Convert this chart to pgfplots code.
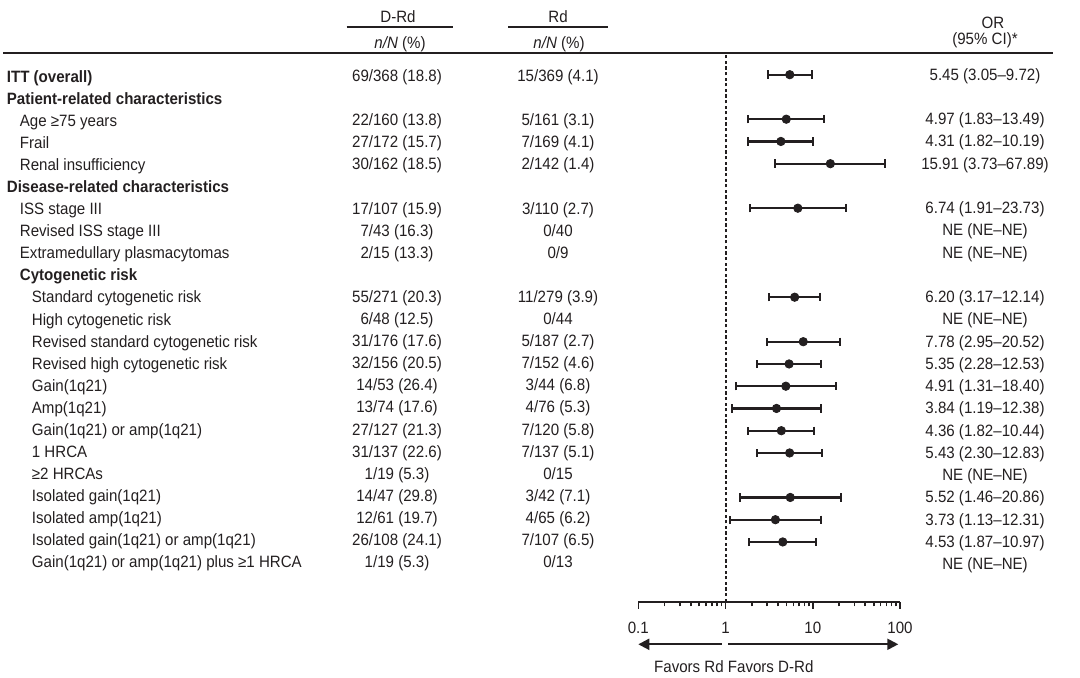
\documentclass[border=0pt]{standalone}
\usepackage{pgfplots}
\pgfplotsset{compat=1.18}
\usepackage{pgfplotstable}
\usepackage{fontspec}
\setmainfont{Liberation Sans}[FakeStretch=0.92]
\usetikzlibrary{arrows.meta}
\definecolor{fg}{RGB}{35,31,32}

\pgfplotstableread{
row or lo hi
0 5.45 3.05 9.72
2 4.97 1.83 13.49
3 4.31 1.82 10.19
4 15.91 3.73 67.89
6 6.74 1.91 23.73
10 6.20 3.17 12.14
12 7.78 2.95 20.52
13 5.35 2.28 12.53
14 4.91 1.31 18.40
15 3.84 1.19 12.38
16 4.36 1.82 10.44
17 5.43 2.30 12.83
19 5.52 1.46 20.86
20 3.73 1.13 12.31
21 4.53 1.87 10.97
}\ortable

\newcommand\Row[6]{%
 \node[anchor=base west] at (#2, {77+22.02*#1+5.8}) {#3};
 \node[anchor=base] at (397, {75.8+22.09*#1+5.8}) {#4};
 \node[anchor=base] at (558, {75.8+22.09*#1+5.8}) {#5};
 \node[anchor=base] at (985, {74.3+22.25*#1+5.8}) {#6};
}

\begin{document}
\begin{tikzpicture}[font=\fontsize{8.2}{9.5}\selectfont, every node/.style={inner sep=0pt, text=fg}]
\begin{scope}[x=0.5pt,y=-0.5pt]
\useasboundingbox (0,0) rectangle (1080,678);
\coordinate (O) at (638.3,601.7);
% header
\node[anchor=base] at (398,22.7) {D-Rd};
\draw[fg, line width=1pt] (346.7,26.7) -- (453.3,26.7);
\node[anchor=base] at (400,48.3) {\textit{n/N} (\%)};
\node[anchor=base] at (558,22.7) {Rd};
\draw[fg, line width=1pt] (508,26.7) -- (608,26.7);
\node[anchor=base] at (559,48.3) {\textit{n/N} (\%)};
\node[anchor=base] at (993,29) {OR};
\node[anchor=base] at (985,44.2) {(95\% CI)*};
\draw[fg, line width=1pt] (3,53.5) -- (1053,53.5);
% rows
\Row{0}{6.5}{\textbf{ITT (overall)}}{69/368 (18.8)}{15/369 (4.1)}{5.45 (3.05–9.72)}
\Row{1}{6.5}{\textbf{Patient-related characteristics}}{}{}{}
\Row{2}{19.5}{Age ≥75 years}{22/160 (13.8)}{5/161 (3.1)}{4.97 (1.83–13.49)}
\Row{3}{19.5}{Frail}{27/172 (15.7)}{7/169 (4.1)}{4.31 (1.82–10.19)}
\Row{4}{19.5}{Renal insufficiency}{30/162 (18.5)}{2/142 (1.4)}{15.91 (3.73–67.89)}
\Row{5}{6.5}{\textbf{Disease-related characteristics}}{}{}{}
\Row{6}{19.5}{ISS stage III}{17/107 (15.9)}{3/110 (2.7)}{6.74 (1.91–23.73)}
\Row{7}{19.5}{Revised ISS stage III}{7/43 (16.3)}{0/40}{NE (NE–NE)}
\Row{8}{19.5}{Extramedullary plasmacytomas}{2/15 (13.3)}{0/9}{NE (NE–NE)}
\Row{9}{19.5}{\textbf{Cytogenetic risk}}{}{}{}
\Row{10}{31.5}{Standard cytogenetic risk}{55/271 (20.3)}{11/279 (3.9)}{6.20 (3.17–12.14)}
\Row{11}{31.5}{High cytogenetic risk}{6/48 (12.5)}{0/44}{NE (NE–NE)}
\Row{12}{31.5}{Revised standard cytogenetic risk}{31/176 (17.6)}{5/187 (2.7)}{7.78 (2.95–20.52)}
\Row{13}{31.5}{Revised high cytogenetic risk}{32/156 (20.5)}{7/152 (4.6)}{5.35 (2.28–12.53)}
\Row{14}{31.5}{Gain(1q21)}{14/53 (26.4)}{3/44 (6.8)}{4.91 (1.31–18.40)}
\Row{15}{31.5}{Amp(1q21)}{13/74 (17.6)}{4/76 (5.3)}{3.84 (1.19–12.38)}
\Row{16}{31.5}{Gain(1q21) or amp(1q21)}{27/127 (21.3)}{7/120 (5.8)}{4.36 (1.82–10.44)}
\Row{17}{31.5}{1 HRCA}{31/137 (22.6)}{7/137 (5.1)}{5.43 (2.30–12.83)}
\Row{18}{31.5}{≥2 HRCAs}{1/19 (5.3)}{0/15}{NE (NE–NE)}
\Row{19}{31.5}{Isolated gain(1q21)}{14/47 (29.8)}{3/42 (7.1)}{5.52 (1.46–20.86)}
\Row{20}{31.5}{Isolated amp(1q21)}{12/61 (19.7)}{4/65 (6.2)}{3.73 (1.13–12.31)}
\Row{21}{31.5}{Isolated gain(1q21) or amp(1q21)}{26/108 (24.1)}{7/107 (6.5)}{4.53 (1.87–10.97)}
\Row{22}{31.5}{Gain(1q21) or amp(1q21) plus ≥1 HRCA}{1/19 (5.3)}{0/13}{NE (NE–NE)}
% arrows and favors
\draw[fg, line width=1pt, -{Triangle[length=5.5pt,width=5.5pt]}] (721.7,644.3) -- (638.3,644.3);
\draw[fg, line width=1pt, -{Triangle[length=5.5pt,width=5.5pt]}] (728.3,644.3) -- (898.3,644.3);
\node[anchor=base] at (733.8,672) {Favors Rd Favors D-Rd};
\end{scope}

\begin{axis}[
  at={(O)}, anchor=south west,
  scale only axis, width=130.85pt, height=273.35pt,
  xmode=log, xmin=0.1, xmax=100, ymin=-601.7, ymax=-55,
  axis x line*=bottom, axis y line=none,
  xtick={0.1,1,10,100}, xticklabels={0.1,1,10,100},
  minor xtick={0.2,0.3,0.4,0.5,0.6,0.7,0.8,0.9,2,3,4,5,6,7,8,9,20,30,40,50,60,70,80,90},
  xtick align=outside, major tick length=3.6pt, minor tick length=2.3pt,
  every tick/.style={line width=0.8pt, fg},
  axis line style={line width=1pt, fg},
  xticklabel style={font=\fontsize{8.2}{9.5}\selectfont, text=fg, yshift=-6.5pt},
  clip=false,
]
\draw[fg, line width=1pt, dash pattern=on 1.6pt off 1.2pt] (axis cs:1,-601.7) -- (axis cs:1,-55);
\addplot[only marks, mark=*, mark size=2.1pt, fg,
  error bars/.cd, x dir=both, x explicit,
  error bar style={line width=1.1pt, fg},
  error mark options={rotate=90, line width=1pt, mark size=2.1pt, fg}]
  table[x=or, y expr={-(74.7+22.25*\thisrow{row})},
        x error plus expr={\thisrow{hi}-\thisrow{or}},
        x error minus expr={\thisrow{or}-\thisrow{lo}}]{\ortable};
\end{axis}
\end{tikzpicture}
\end{document}
